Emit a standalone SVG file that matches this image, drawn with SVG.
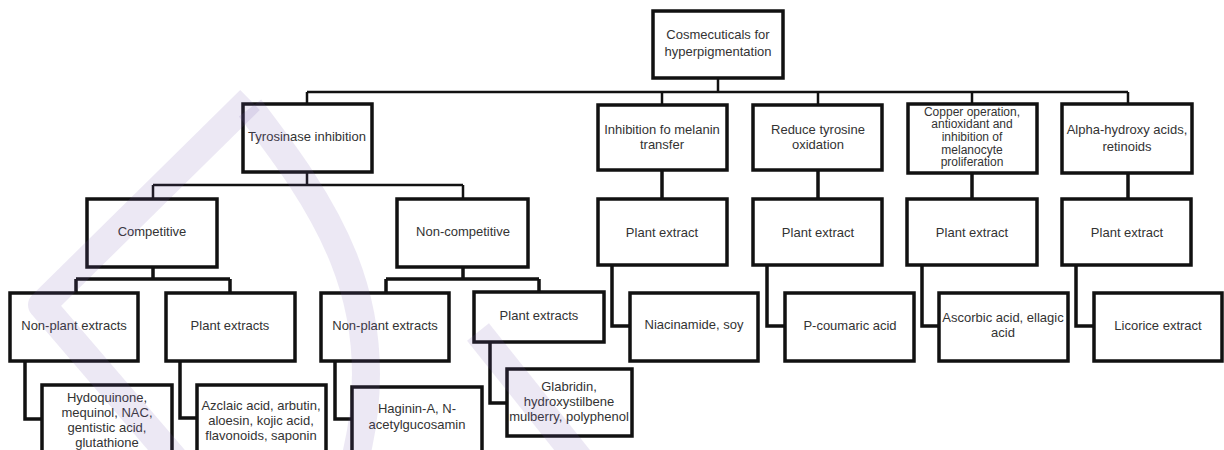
<svg xmlns="http://www.w3.org/2000/svg" width="1224" height="450" viewBox="0 0 1224 450">
<style>
.box{fill:#fff;stroke:#111;stroke-width:3.5}
.t{font-family:"Liberation Sans",Arial,sans-serif;font-size:13px;fill:#333;text-anchor:middle}
.s{font-size:12px}
.c{fill:none;stroke:#111;stroke-width:3.5;stroke-linejoin:miter}
.c2{fill:none;stroke:#111;stroke-width:2.5}
.wm{fill:none;stroke:#7a5fb0;stroke-opacity:0.14;stroke-width:28;stroke-linecap:butt;stroke-linejoin:round}
</style>
<rect width="1224" height="450" fill="#fff"/>
<g id="connectors">
<path class="c2" d="M718 78V92M307 92H1128M307 92V104M662 92V105M818 92V105M972 92V104M1128 92V104"/>
<path class="c2" d="M307 172V185M153 185H463M153 185V199M463 185V199"/>
<path class="c" d="M153 267V279M76 279H230M76 279V293M230 279V293"/>
<path class="c" d="M463 267V279M386 279H539M386 279V293M539 279V292"/>
<path class="c" d="M25 361V419H42M180 361V418H197M335 361V419H352M490 342V403H507"/>
<path class="c" d="M662 170V199M818 170V199M972 173V199M1128 173V199"/>
<path class="c" d="M612 265V326H630M767 265V326H785M922 265V326H939M1076 265V326H1094"/>
</g>
<g id="root"><rect class="box" x="653" y="11" width="130" height="67"/><text class="t" x="718" y="39">Cosmecuticals for</text><text class="t" x="718" y="56">hyperpigmentation</text></g>
<g id="tyrosinase"><rect class="box" x="243" y="104" width="129" height="68"/><text class="t" x="307" y="141">Tyrosinase inhibition</text></g>
<g id="inhibition"><rect class="box" x="598" y="105" width="129" height="65"/><text class="t" x="662" y="134">Inhibition fo melanin</text><text class="t" x="662" y="149">transfer</text></g>
<g id="reduce"><rect class="box" x="753" y="105" width="129" height="65"/><text class="t" x="818" y="134">Reduce tyrosine</text><text class="t" x="818" y="149">oxidation</text></g>
<g id="copper"><rect class="box" x="908" y="104" width="129" height="69"/><text class="t s" x="972" y="116">Copper operation,</text><text class="t s" x="972" y="128">antioxidant and</text><text class="t s" x="972" y="141">inhibition of</text><text class="t s" x="972" y="154">melanocyte</text><text class="t s" x="972" y="166">proliferation</text></g>
<g id="alpha"><rect class="box" x="1062" y="104" width="130" height="69"/><text class="t" x="1127" y="134">Alpha-hydroxy acids,</text><text class="t" x="1127" y="151">retinoids</text></g>
<g id="competitive"><rect class="box" x="87" y="199" width="130" height="68"/><text class="t" x="152" y="236">Competitive</text></g>
<g id="noncompetitive"><rect class="box" x="397" y="199" width="131" height="68"/><text class="t" x="463" y="236">Non-competitive</text></g>
<g id="nonplant1"><rect class="box" x="10" y="293" width="128" height="68"/><text class="t" x="74" y="330">Non-plant extracts</text></g>
<g id="plant1"><rect class="box" x="166" y="293" width="129" height="68"/><text class="t" x="230" y="330">Plant extracts</text></g>
<g id="nonplant2"><rect class="box" x="321" y="293" width="128" height="68"/><text class="t" x="385" y="330">Non-plant extracts</text></g>
<g id="plant2"><rect class="box" x="474" y="292" width="130" height="50"/><text class="t" x="539" y="320">Plant extracts</text></g>
<g id="plantA"><rect class="box" x="598" y="199" width="129" height="66"/><text class="t" x="662" y="237">Plant extract</text></g>
<g id="plantB"><rect class="box" x="753" y="199" width="129" height="66"/><text class="t" x="818" y="237">Plant extract</text></g>
<g id="plantC"><rect class="box" x="907" y="199" width="130" height="66"/><text class="t" x="972" y="237">Plant extract</text></g>
<g id="plantD"><rect class="box" x="1062" y="199" width="129" height="66"/><text class="t" x="1127" y="237">Plant extract</text></g>
<g id="hydoquinone"><rect class="box" x="42" y="385" width="130" height="75"/><text class="t" x="107" y="402">Hydoquinone,</text><text class="t" x="107" y="417">mequinol, NAC,</text><text class="t" x="107" y="432">gentistic acid,</text><text class="t" x="107" y="447">glutathione</text></g>
<g id="azclaic"><rect class="box" x="197" y="385" width="129" height="75"/><text class="t" x="261" y="410">Azclaic acid, arbutin,</text><text class="t" x="261" y="425">aloesin, kojic acid,</text><text class="t" x="261" y="440">flavonoids, saponin</text></g>
<g id="haginin"><rect class="box" x="352" y="387" width="130" height="75"/><text class="t" x="417" y="413">Haginin-A, N-</text><text class="t" x="417" y="429">acetylgucosamin</text></g>
<g id="glabridin"><rect class="box" x="507" y="369" width="125" height="67"/><text class="t" x="569" y="391">Glabridin,</text><text class="t" x="569" y="406">hydroxystilbene</text><text class="t" x="569" y="421">mulberry, polyphenol</text></g>
<g id="niacinamide"><rect class="box" x="630" y="293" width="128" height="68"/><text class="t" x="694" y="329">Niacinamide, soy</text></g>
<g id="pcoumaric"><rect class="box" x="785" y="293" width="129" height="68"/><text class="t" x="850" y="330">P-coumaric acid</text></g>
<g id="ascorbic"><rect class="box" x="939" y="293" width="129" height="68"/><text class="t" x="1003" y="322">Ascorbic acid, ellagic</text><text class="t" x="1003" y="337">acid</text></g>
<g id="licorice"><rect class="box" x="1094" y="293" width="128" height="68"/><text class="t" x="1158" y="330">Licorice extract</text></g>
<g id="watermark">
<path class="wm" d="M250 100L42 305L175 460"/>
<path class="wm" d="M250 108C320 200 395 300 355 460"/>
<path class="wm" d="M478 332L580 460"/>
</g>
</svg>
